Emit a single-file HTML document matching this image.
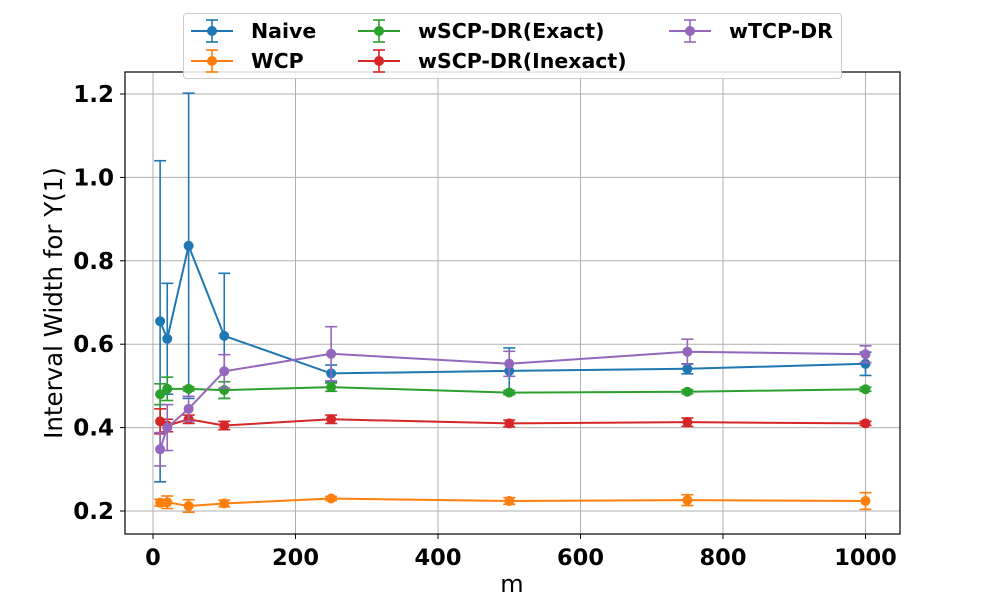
<!DOCTYPE html>
<html><head><meta charset="utf-8"><style>
body{margin:0;background:#fff}
svg{font-family:"DejaVu Sans","Liberation Sans",sans-serif}
</style></head><body>
<svg id="chart" width="1000" height="600" xmlns="http://www.w3.org/2000/svg"></svg>
<script>
const mVals=[10,20,50,100,250,500,750,1000];
const seriesNames=["Naive","WCP","wSCP-DR(Exact)","wSCP-DR(Inexact)","wTCP-DR"];
const naive=[0.655,0.613,0.836,0.620,0.530,0.536,0.541,0.553];
const naiveErr=[0.385,0.133,0.366,0.150,0.020,0.055,0.012,0.028];
const wcp=[0.220,0.221,0.212,0.218,0.230,0.224,0.226,0.224];
const wcpErr=[0.008,0.015,0.015,0.008,0.005,0.008,0.013,0.020];
const exact=[0.480,0.493,0.493,0.490,0.497,0.484,0.486,0.492];
const exactErr=[0.025,0.028,0.005,0.020,0.010,0.005,0.005,0.005];
const inexact=[0.415,0.405,0.420,0.405,0.420,0.410,0.413,0.410];
const inexactErr=[0.030,0.015,0.010,0.010,0.010,0.008,0.010,0.005];
const wtcp=[0.348,0.400,0.445,0.535,0.577,0.553,0.582,0.576];
const wtcpErr=[0.040,0.055,0.030,0.040,0.065,0.030,0.030,0.020];
const xTicks=[0,200,400,600,800,1000];
const yTicks=[0.2,0.4,0.6,0.8,1.0,1.2];
const colors=["#1f77b4","#ff7f0e","#2ca02c","#d62728","#9467bd"];
const L=125,R=900,T=72,B=534;
const xs=v=>153+(v/1000)*712.5;
const ys=v=>511-(v-0.2)*417;
const svg=document.getElementById('chart');
const NS="http://www.w3.org/2000/svg";
function mk(tag,attrs,parent){const e=document.createElementNS(NS,tag);for(const k in attrs)e.setAttribute(k,attrs[k]);(parent||svg).appendChild(e);return e;}
const grid=mk('g',{});


xTicks.forEach(t=>{mk('line',{x1:xs(t),x2:xs(t),y1:T,y2:B,stroke:'#b0b0b0','stroke-width':1},grid);});
yTicks.forEach(t=>{mk('line',{x1:L,x2:R,y1:ys(t),y2:ys(t),stroke:'#b0b0b0','stroke-width':1},grid);});
const xt=mk('g',{});


xTicks.forEach(t=>{mk('line',{x1:xs(t),x2:xs(t),y1:B,y2:B+5,stroke:'#000'},xt);
 const tx=mk('text',{x:xs(t),y:B+31,'text-anchor':'middle','font-size':22.5,'font-weight':'bold'},xt);tx.textContent=t;});
const yt=mk('g',{});


yTicks.forEach(t=>{mk('line',{x1:L-5,x2:L,y1:ys(t),y2:ys(t),stroke:'#000'},yt);
 const tx=mk('text',{x:L-11,y:ys(t)+8,'text-anchor':'end','font-size':23,'font-weight':'bold'},yt);tx.textContent=t.toFixed(1);});
const xl=mk('text',{x:512,y:592,'text-anchor':'middle','font-size':24});xl.textContent='m';


const yl=mk('text',{x:0,y:0,'text-anchor':'middle','font-size':24.5,transform:'translate(62,303) rotate(-90)'});yl.textContent='Interval Width for Y(1)';


const data=[[naive,naiveErr],[wcp,wcpErr],[exact,exactErr],[inexact,inexactErr],[wtcp,wtcpErr]];
data.forEach((d,si)=>{
 const g=mk('g',{});
 
 
 const c=colors[si];
 mVals.forEach((m,i)=>{const x=xs(m),y1=ys(d[0][i]-d[1][i]),y2=ys(d[0][i]+d[1][i]);
  mk('line',{x1:x,x2:x,y1:y1,y2:y2,stroke:c,'stroke-width':1.6},g);
  mk('line',{x1:x-6,x2:x+6,y1:y1,y2:y1,stroke:c,'stroke-width':1.6},g);
  mk('line',{x1:x-6,x2:x+6,y1:y2,y2:y2,stroke:c,'stroke-width':1.6},g);});
 mk('polyline',{points:mVals.map((m,i)=>xs(m)+','+ys(d[0][i])).join(' '),fill:'none',stroke:c,'stroke-width':2},g);
 mVals.forEach((m,i)=>{const p=mk('circle',{cx:xs(m),cy:ys(d[0][i]),r:5,fill:c},g);
  
  });
});
mk('rect',{x:L,y:T,width:R-L,height:B-T,fill:'none',stroke:'#000','stroke-width':1.2});
const lg=mk('g',{});


mk('rect',{x:183.5,y:13.5,width:658,height:65,rx:3,fill:'#fff','fill-opacity':0.85,stroke:'#ccc'},lg);
const pos=[[191,31],[191,61],[358,31],[358,61],[669,31]];
seriesNames.forEach((n,i)=>{const [x,y]=pos[i],c=colors[i];
 const e=mk('g',{},lg);
 
 
 mk('line',{x1:x,x2:x+42,y1:y,y2:y,stroke:c,'stroke-width':2},e);
 mk('line',{x1:x+21,x2:x+21,y1:y-11,y2:y+11,stroke:c,'stroke-width':1.6},e);
 mk('line',{x1:x+15,x2:x+27,y1:y-11,y2:y-11,stroke:c,'stroke-width':1.6},e);
 mk('line',{x1:x+15,x2:x+27,y1:y+11,y2:y+11,stroke:c,'stroke-width':1.6},e);
 mk('circle',{cx:x+21,cy:y,r:5,fill:c},e);
 const t=mk('text',{x:x+60,y:y+7,'font-size':20.5,'font-weight':'bold'},e);t.textContent=n;});
</script>
</body></html>
